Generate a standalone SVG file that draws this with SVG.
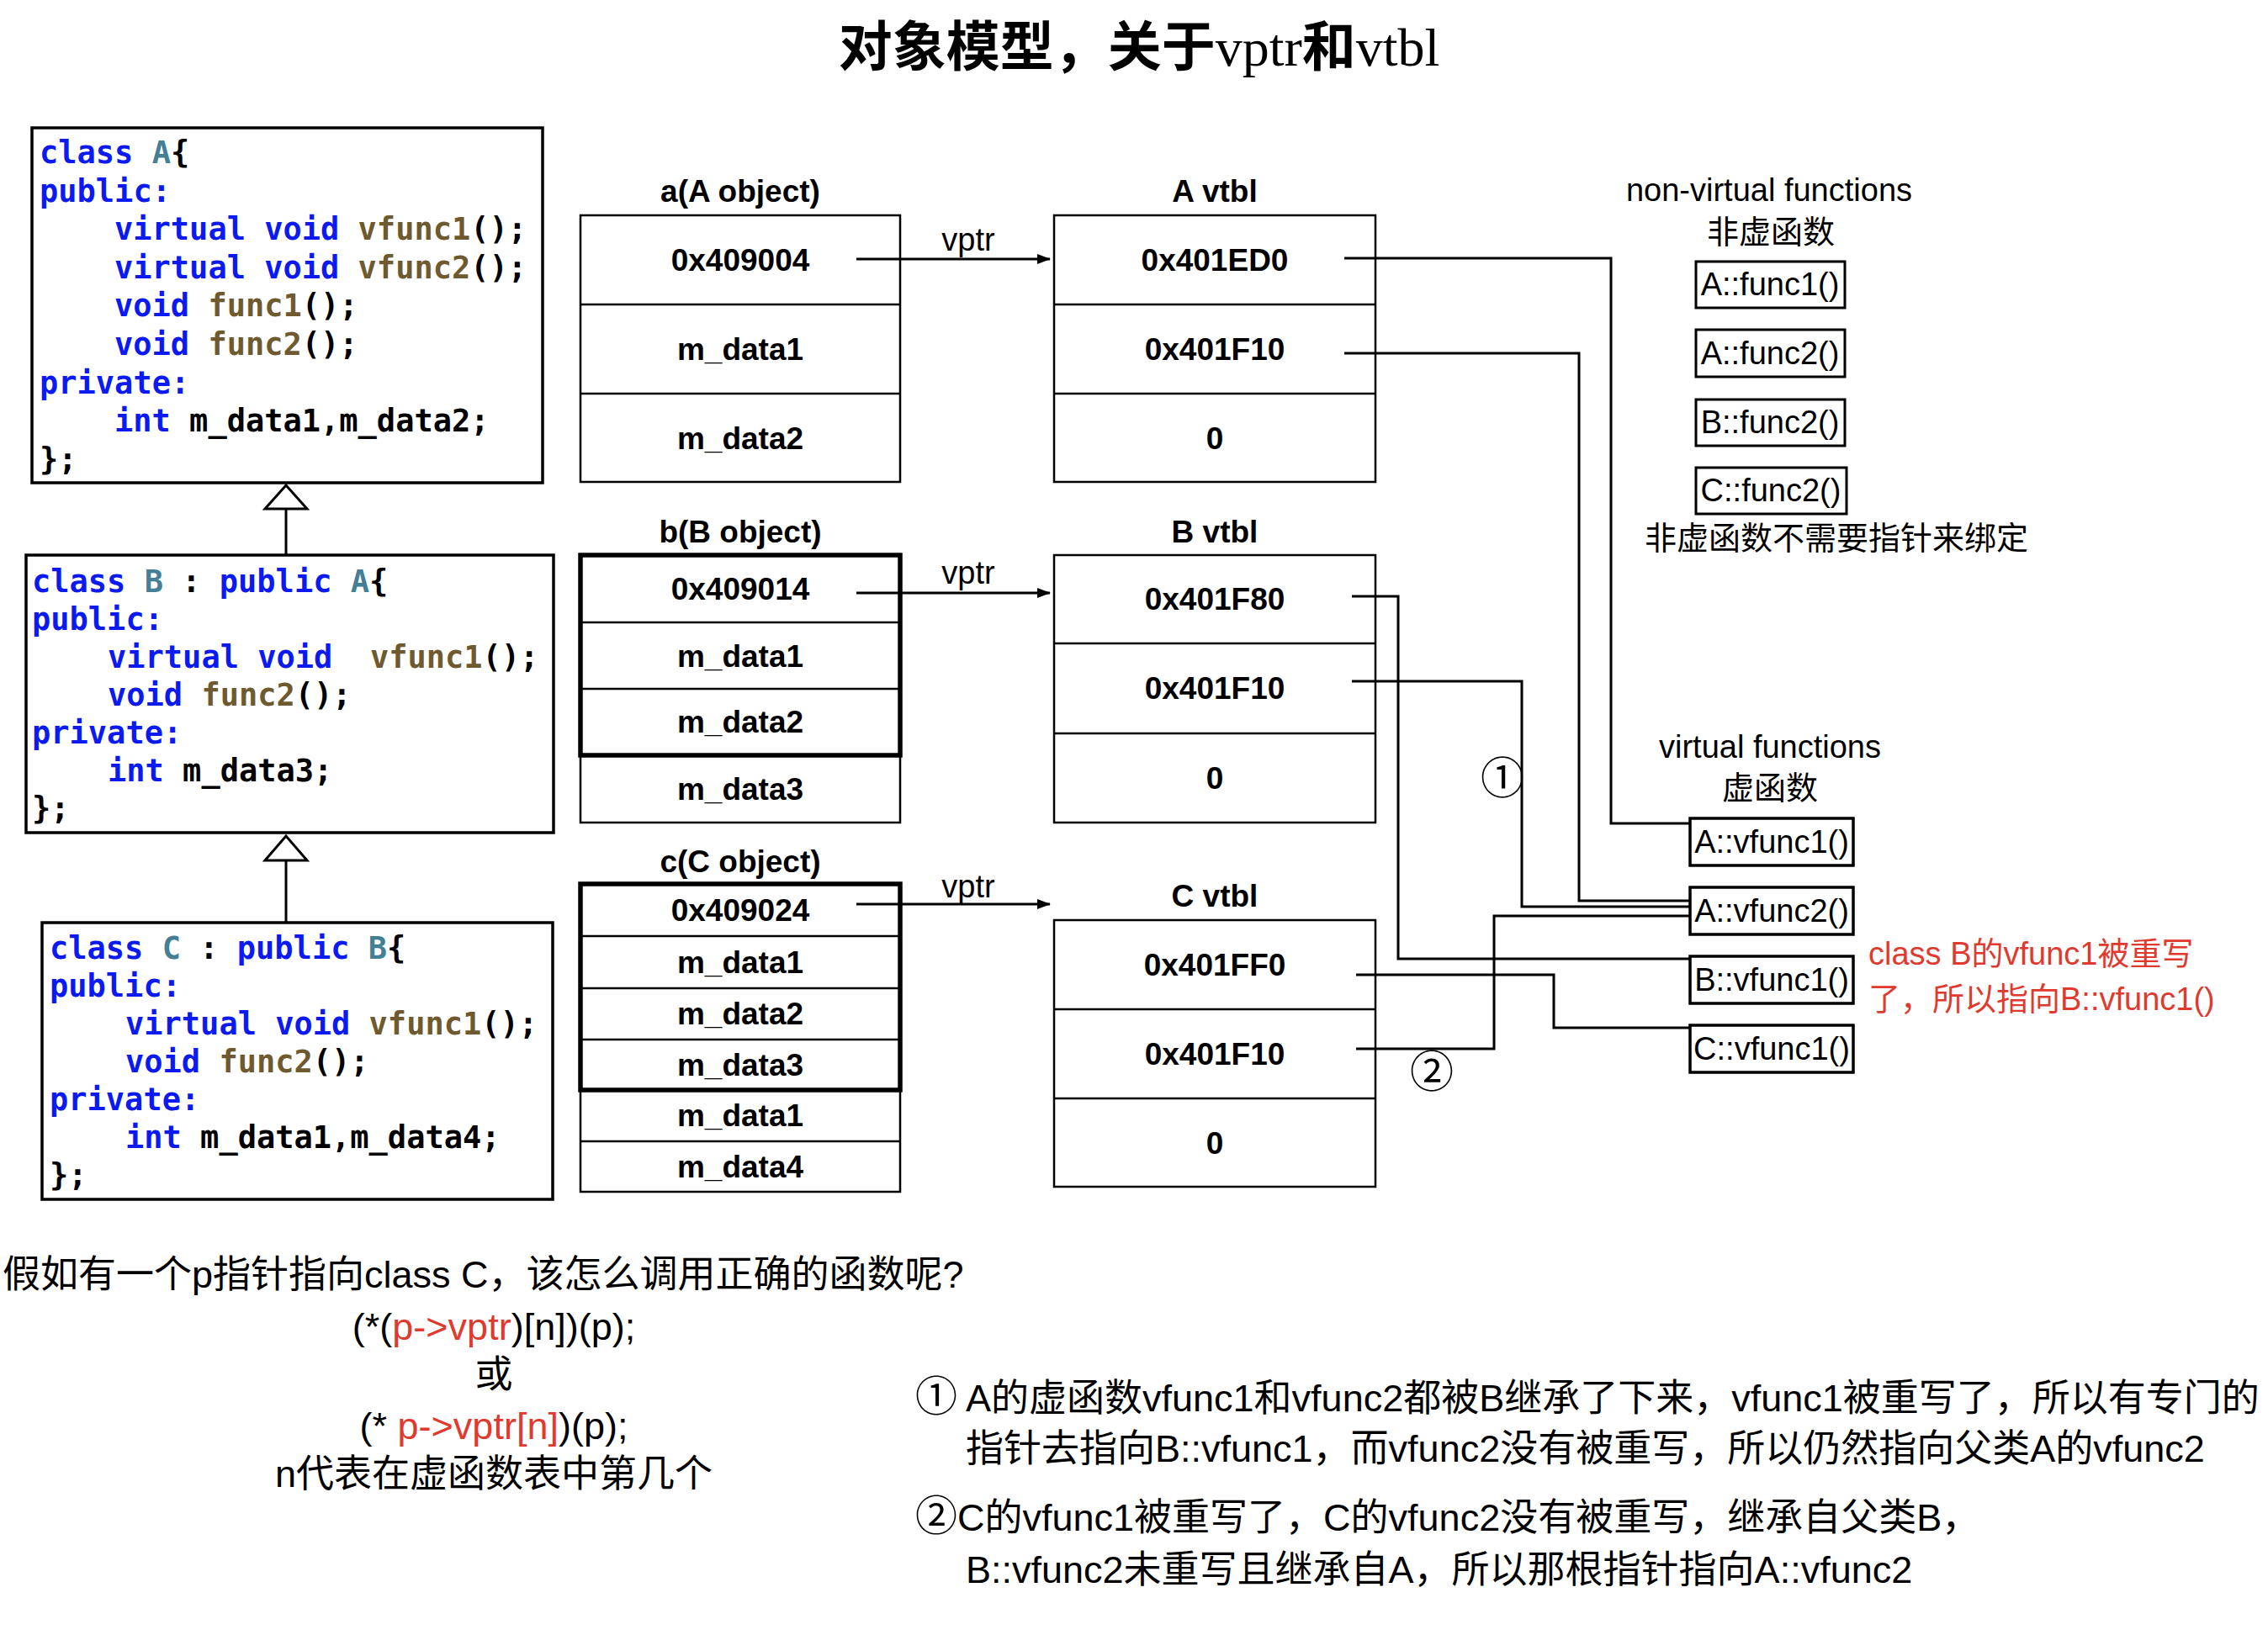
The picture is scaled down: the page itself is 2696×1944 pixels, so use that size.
<svg xmlns="http://www.w3.org/2000/svg" width="2696" height="1944" viewBox="0 0 2696 1944">
<style>
.code{font-family:"DejaVu Sans Mono",monospace;font-weight:bold;font-size:37px;fill:#000}
.kw{fill:#0B1AF0}.cn{fill:#457F96}.fn{fill:#6E5A2E}
.box{fill:#fff;stroke:#000;stroke-width:2.5}
.cbox{fill:#fff;stroke:#000;stroke-width:3.5}
.thick{fill:none;stroke:#000;stroke-width:5.5}
.div{stroke:#000;stroke-width:2.5}
.b{font-family:"Liberation Sans",Arial,sans-serif;font-weight:bold;font-size:37px;text-anchor:middle;fill:#000}
.r{font-family:"Liberation Sans",Arial,"Noto Sans CJK SC",sans-serif;font-size:38px;fill:#000}
.m{text-anchor:middle}
.fbox{fill:#fff;stroke:#000;stroke-width:3}
.vbox{fill:#fff;stroke:#000;stroke-width:3.5}
.conn{fill:none;stroke:#000;stroke-width:3}
.red{fill:#E03A2E}
.t{font-family:"Liberation Sans",Arial,"Noto Sans CJK SC",sans-serif;font-size:45px;fill:#000}
.circ{font-family:"Noto Sans CJK SC","DejaVu Sans",sans-serif;font-size:52px;text-anchor:middle;fill:#000}
</style>
<defs>
<marker id="arr" markerWidth="16" markerHeight="12" refX="15" refY="6" orient="auto" markerUnits="userSpaceOnUse"><path d="M0,0 L16,6 L0,12 z" fill="#000"/></marker>
</defs>

<text id="title" x="1354" y="78" font-family="'Liberation Serif','Noto Sans CJK SC',serif" font-size="64" text-anchor="middle"><tspan font-family="'Noto Sans CJK SC',serif" font-weight="bold">对象模型，关于</tspan>vptr<tspan font-family="'Noto Sans CJK SC',serif" font-weight="bold">和</tspan>vtbl</text>

<g id="classA">
<rect class="cbox" x="38" y="152" width="607" height="422"/>
<text class="code" xml:space="preserve" x="47" y="194"><tspan class="kw">class</tspan> <tspan class="cn">A</tspan>{</text>
<text class="code kw" x="47" y="240">public:</text>
<text class="code" xml:space="preserve" x="136" y="285"><tspan class="kw">virtual void</tspan> <tspan class="fn">vfunc1</tspan>();</text>
<text class="code" xml:space="preserve" x="136" y="331"><tspan class="kw">virtual void</tspan> <tspan class="fn">vfunc2</tspan>();</text>
<text class="code" xml:space="preserve" x="136" y="376"><tspan class="kw">void</tspan> <tspan class="fn">func1</tspan>();</text>
<text class="code" xml:space="preserve" x="136" y="422"><tspan class="kw">void</tspan> <tspan class="fn">func2</tspan>();</text>
<text class="code kw" x="47" y="468">private:</text>
<text class="code" xml:space="preserve" x="136" y="513"><tspan class="kw">int</tspan> m_data1,m_data2;</text>
<text class="code" x="47" y="559">};</text>
</g>

<g id="classB">
<rect class="cbox" x="31" y="660" width="627" height="330"/>
<text class="code" xml:space="preserve" x="38" y="704"><tspan class="kw">class</tspan> <tspan class="cn">B</tspan> : <tspan class="kw">public</tspan> <tspan class="cn">A</tspan>{</text>
<text class="code kw" x="38" y="749">public:</text>
<text class="code" xml:space="preserve" x="128" y="794"><tspan class="kw">virtual void</tspan>  <tspan class="fn">vfunc1</tspan>();</text>
<text class="code" xml:space="preserve" x="128" y="839"><tspan class="kw">void</tspan> <tspan class="fn">func2</tspan>();</text>
<text class="code kw" x="38" y="884">private:</text>
<text class="code" xml:space="preserve" x="128" y="929"><tspan class="kw">int</tspan> m_data3;</text>
<text class="code" x="38" y="974">};</text>
</g>

<g id="classC">
<rect class="cbox" x="50" y="1097" width="607" height="329"/>
<text class="code" xml:space="preserve" x="59" y="1140"><tspan class="kw">class</tspan> <tspan class="cn">C</tspan> : <tspan class="kw">public</tspan> <tspan class="cn">B</tspan>{</text>
<text class="code kw" x="59" y="1185">public:</text>
<text class="code" xml:space="preserve" x="149" y="1230"><tspan class="kw">virtual void</tspan> <tspan class="fn">vfunc1</tspan>();</text>
<text class="code" xml:space="preserve" x="149" y="1275"><tspan class="kw">void</tspan> <tspan class="fn">func2</tspan>();</text>
<text class="code kw" x="59" y="1320">private:</text>
<text class="code" xml:space="preserve" x="149" y="1365"><tspan class="kw">int</tspan> m_data1,m_data4;</text>
<text class="code" x="59" y="1410">};</text>
</g>

<g id="objA">
<text class="b" x="880" y="240">a(A object)</text>
<rect class="box" x="690" y="256" width="380" height="317"/>
<line class="div" x1="690" y1="362" x2="1070" y2="362"/>
<line class="div" x1="690" y1="468" x2="1070" y2="468"/>
<text class="b" x="880" y="322">0x409004</text>
<text class="b" x="880" y="428">m_data1</text>
<text class="b" x="880" y="534">m_data2</text>
</g>

<g id="vtblA">
<text class="b" x="1444" y="240">A vtbl</text>
<rect class="box" x="1253" y="256" width="382" height="317"/>
<line class="div" x1="1253" y1="362" x2="1635" y2="362"/>
<line class="div" x1="1253" y1="468" x2="1635" y2="468"/>
<text class="b" x="1444" y="322">0x401ED0</text>
<text class="b" x="1444" y="428">0x401F10</text>
<text class="b" x="1444" y="534">0</text>
</g>

<g id="objB">
<text class="b" x="880" y="645">b(B object)</text>
<rect class="box" x="690" y="660" width="380" height="318"/>
<line class="div" x1="690" y1="740" x2="1070" y2="740"/>
<line class="div" x1="690" y1="819" x2="1070" y2="819"/>
<rect class="thick" x="690" y="660" width="380" height="238"/>
<text class="b" x="880" y="713">0x409014</text>
<text class="b" x="880" y="793">m_data1</text>
<text class="b" x="880" y="871">m_data2</text>
<text class="b" x="880" y="951">m_data3</text>
</g>

<g id="vtblB">
<text class="b" x="1444" y="645">B vtbl</text>
<rect class="box" x="1253" y="660" width="382" height="318"/>
<line class="div" x1="1253" y1="765" x2="1635" y2="765"/>
<line class="div" x1="1253" y1="872" x2="1635" y2="872"/>
<text class="b" x="1444" y="725">0x401F80</text>
<text class="b" x="1444" y="831">0x401F10</text>
<text class="b" x="1444" y="938">0</text>
</g>

<g id="objC">
<text class="b" x="880" y="1037">c(C object)</text>
<rect class="box" x="690" y="1051" width="380" height="366"/>
<line class="div" x1="690" y1="1113" x2="1070" y2="1113"/>
<line class="div" x1="690" y1="1175" x2="1070" y2="1175"/>
<line class="div" x1="690" y1="1236" x2="1070" y2="1236"/>
<line class="div" x1="690" y1="1357" x2="1070" y2="1357"/>
<rect class="thick" x="690" y="1051" width="380" height="245"/>
<text class="b" x="880" y="1095">0x409024</text>
<text class="b" x="880" y="1157">m_data1</text>
<text class="b" x="880" y="1218">m_data2</text>
<text class="b" x="880" y="1279">m_data3</text>
<text class="b" x="880" y="1339">m_data1</text>
<text class="b" x="880" y="1400">m_data4</text>
</g>

<g id="vtblC">
<text class="b" x="1444" y="1078">C vtbl</text>
<rect class="box" x="1253" y="1094" width="382" height="317"/>
<line class="div" x1="1253" y1="1200" x2="1635" y2="1200"/>
<line class="div" x1="1253" y1="1306" x2="1635" y2="1306"/>
<text class="b" x="1444" y="1160">0x401FF0</text>
<text class="b" x="1444" y="1266">0x401F10</text>
<text class="b" x="1444" y="1372">0</text>
</g>

<g id="nonvirtual">
<text class="r m" x="2103" y="239">non-virtual functions</text>
<text class="r m" x="2105" y="289">非虚函数</text>
<rect class="fbox" x="2016" y="311" width="177" height="55"/>
<text class="r m" x="2104" y="351" font-size="37">A::func1()</text>
<rect class="fbox" x="2016" y="392" width="177" height="56"/>
<text class="r m" x="2104" y="433" font-size="37">A::func2()</text>
<rect class="fbox" x="2016" y="475" width="177" height="55"/>
<text class="r m" x="2104" y="515" font-size="37">B::func2()</text>
<rect class="fbox" x="2016" y="556" width="179" height="55"/>
<text class="r m" x="2105" y="596" font-size="37">C::func2()</text>
<text class="r m" x="2183" y="653" font-size="36.5">非虚函数不需要指针来绑定</text>
</g>

<g id="virtual">
<text class="r m" x="2104" y="901">virtual functions</text>
<text class="r m" x="2104" y="950">虚函数</text>
<rect class="vbox" x="2009" y="973" width="194" height="56"/>
<text class="r m" x="2106" y="1014" font-size="37">A::vfunc1()</text>
<rect class="vbox" x="2009" y="1055" width="194" height="56"/>
<text class="r m" x="2106" y="1096" font-size="37">A::vfunc2()</text>
<rect class="vbox" x="2009" y="1137" width="194" height="56"/>
<text class="r m" x="2106" y="1178" font-size="37">B::vfunc1()</text>
<rect class="vbox" x="2009" y="1219" width="194" height="56"/>
<text class="r m" x="2106" y="1260" font-size="37">C::vfunc1()</text>
</g>

<g id="note-red">
<text class="r red" x="2221" y="1147" font-size="37">class B的vfunc1被重写</text>
<text class="r red" x="2221" y="1201" font-size="37">了，所以指向B::vfunc1()</text>
</g>

<g id="connectors">
<path class="conn" d="M340,605 V660"/>
<path d="M340,577 L315,605 L365,605 Z" fill="#fff" stroke="#000" stroke-width="3"/>
<path class="conn" d="M340,1023 V1097"/>
<path d="M340,994 L315,1023 L365,1023 Z" fill="#fff" stroke="#000" stroke-width="3"/>
<line class="conn" x1="1018" y1="308" x2="1248" y2="308" marker-end="url(#arr)"/>
<line class="conn" x1="1018" y1="705" x2="1248" y2="705" marker-end="url(#arr)"/>
<line class="conn" x1="1018" y1="1075" x2="1248" y2="1075" marker-end="url(#arr)"/>
<text class="r m" x="1151" y="298">vptr</text>
<text class="r m" x="1151" y="694">vptr</text>
<text class="r m" x="1151" y="1067">vptr</text>
<path class="conn" d="M1598,307 H1915 V979 H2009"/>
<path class="conn" d="M1598,420 H1877 V1071 H2009"/>
<path class="conn" d="M1607,709 H1662 V1140 H2009"/>
<path class="conn" d="M1607,810 H1809 V1078 H2009"/>
<path class="conn" d="M1612,1159 H1847 V1222 H2009"/>
<path class="conn" d="M1612,1247 H1776 V1089 H2009"/>
<text class="circ" x="1786" y="944">①</text>
<text class="circ" x="1702" y="1293">②</text>
</g>

<g id="question">
<text class="t" x="3" y="1531">假如有一个p指针指向class C，该怎么调用正确的函数呢?</text>
<text class="t m" x="587" y="1593" font-size="43">(*(<tspan class="red">p-&gt;vptr</tspan>)[n])(p);</text>
<text class="t m" x="587" y="1650" font-size="43">或</text>
<text class="t m" x="587" y="1711" font-size="43" xml:space="preserve">(* <tspan class="red">p-&gt;vptr[n]</tspan>)(p);</text>
<text class="t m" x="587" y="1768" font-size="43">n代表在虚函数表中第几个</text>
</g>

<g id="explain">
<text class="t" x="1088" y="1678"><tspan font-size="50">①</tspan> A的虚函数vfunc1和vfunc2都被B继承了下来，vfunc1被重写了，所以有专门的</text>
<text class="t" x="1148" y="1738">指针去指向B::vfunc1，而vfunc2没有被重写，所以仍然指向父类A的vfunc2</text>
<text class="t" x="1088" y="1820"><tspan font-size="50">②</tspan>C的vfunc1被重写了，C的vfunc2没有被重写，继承自父类B，</text>
<text class="t" x="1148" y="1882">B::vfunc2未重写且继承自A，所以那根指针指向A::vfunc2</text>
</g>
</svg>
